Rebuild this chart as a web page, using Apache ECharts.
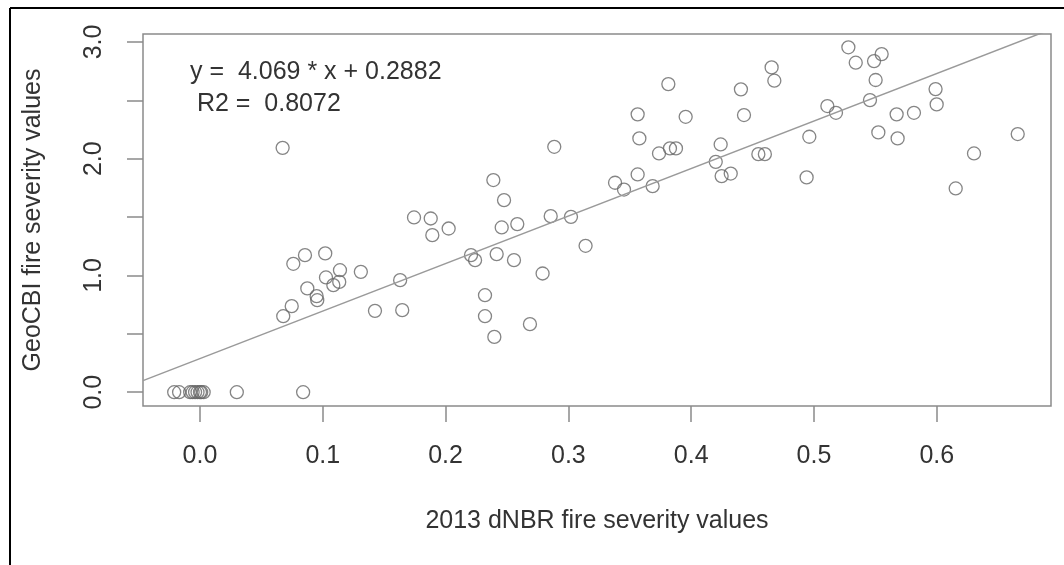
<!DOCTYPE html>
<html><head><meta charset="utf-8">
<script src="https://cdn.jsdelivr.net/npm/echarts@6/dist/echarts.min.js"></script>
<style>html,body{margin:0;padding:0;background:#fff}#c{width:1064px;height:565px}</style>
</head><body><div id="c"></div>
<script>
// 2013 dNBR fire severity values (x)
const dnbr = [
  -0.021, -0.017, -0.008, -0.006, -0.004, -0.002, 0.000, 0.001, 0.003, 0.030, 0.084,
  0.0673, 0.076, 0.0855, 0.102, 0.114, 0.1026, 0.1086, 0.1134, 0.131, 0.0874, 0.095, 0.0955, 0.0747, 0.0678, 0.1425, 0.1647, 0.163,
  0.1743, 0.1879, 0.1892, 0.2025, 0.2389, 0.2476, 0.2457, 0.2584, 0.2856, 0.3021, 0.314, 0.2207, 0.224, 0.2416, 0.2557, 0.279, 0.2321, 0.2321, 0.2397, 0.2687, 0.2885,
  0.3814, 0.3564, 0.3955, 0.3578, 0.3738, 0.3827, 0.3876, 0.424, 0.420, 0.4248, 0.4322, 0.338, 0.3453, 0.3564, 0.3686, 0.4405, 0.443, 0.4547, 0.460,
  0.528, 0.534, 0.5489, 0.5551, 0.5502, 0.4655, 0.4677, 0.5109, 0.5179, 0.5456, 0.5673, 0.5814, 0.599, 0.5999, 0.5524, 0.5681, 0.4962, 0.6659, 0.6303, 0.6154, 0.494
];
// GeoCBI fire severity values (y)
const geocbi = [
  0, 0, 0, 0, 0, 0, 0, 0, 0, 0, 0,
  2.093, 1.10, 1.174, 1.189, 1.045, 0.983, 0.917, 0.945, 1.031, 0.889, 0.823, 0.788, 0.737, 0.651, 0.697, 0.703, 0.96,
  1.497, 1.488, 1.345, 1.402, 1.817, 1.645, 1.411, 1.44, 1.508, 1.502, 1.254, 1.174, 1.131, 1.183, 1.131, 1.017, 0.831, 0.651, 0.474, 0.583, 2.102,
  2.639, 2.38, 2.359, 2.174, 2.045, 2.088, 2.088, 2.122, 1.973, 1.851, 1.873, 1.794, 1.736, 1.865, 1.765, 2.594, 2.374, 2.039, 2.039,
  2.954, 2.822, 2.836, 2.896, 2.674, 2.782, 2.668, 2.451, 2.393, 2.502, 2.38, 2.393, 2.596, 2.465, 2.225, 2.174, 2.188, 2.211, 2.045, 1.745, 1.84
];
const xTicks = [0, 0.1, 0.2, 0.3, 0.4, 0.5, 0.6];
const yTicks = [0, 0.5, 1, 1.5, 2, 2.5, 3];
const yTickLabels = [0, 1, 2, 3];
const xRange = [-0.0464, 0.693];
const yRange = [-0.118, 3.068];
const fitSlope = 4.069;
const fitIntercept = 0.2882;
const fitLines = ['y =  4.069 * x + 0.2882', ' R2 =  0.8072'];
const xTitle = '2013 dNBR fire severity values';
const yTitle = 'GeoCBI fire severity values';

const FONT = '"Liberation Sans", Arial, Helvetica, sans-serif';
const points = dnbr.map((x, i) => [x, geocbi[i]]);
const fit = xRange.map(x => [x, fitSlope * x + fitIntercept]);

const chart = echarts.init(document.getElementById('c'), null, {renderer: 'canvas'});
chart.setOption({
  backgroundColor: '#fff',
  animation: false,
  grid: {left: 143, top: 34, right: 13, bottom: 159, show: true, borderColor: '#8a8a8a', borderWidth: 1.5,
         containLabel: false, outerBoundsMode: 'none'},
  xAxis: {
    type: 'value', min: xRange[0], max: xRange[1],
    axisLine: {show: false, onZero: false},
    splitLine: {show: false},
    axisTick: {show: true, length: 16, customValues: xTicks, lineStyle: {color: '#8a8a8a', width: 1.5}},
    axisLabel: {customValues: xTicks, margin: 38, fontSize: 25, fontFamily: FONT, color: '#333',
                formatter: v => v.toFixed(1)},
    name: xTitle, nameLocation: 'middle', nameGap: 103,
    nameTextStyle: {fontSize: 25, fontFamily: FONT, color: '#333'}
  },
  yAxis: {
    type: 'value', min: yRange[0], max: yRange[1],
    axisLine: {show: false, onZero: false},
    splitLine: {show: false},
    axisTick: {show: true, length: 16, customValues: yTicks, lineStyle: {color: '#8a8a8a', width: 1.5}},
    axisLabel: {customValues: yTickLabels, rotate: 90, margin: 36, fontSize: 25, fontFamily: FONT, color: '#333',
                formatter: v => v.toFixed(1)},
    name: yTitle, nameLocation: 'middle', nameGap: 97,
    nameTextStyle: {fontSize: 25, fontFamily: FONT, color: '#333'}
  },
  series: [
    {type: 'line', data: fit, symbol: 'none', clip: true, silent: true,
     lineStyle: {color: '#9a9a9a', width: 1.5}},
    {type: 'scatter', data: points, symbol: 'circle', symbolSize: 13, clip: false,
     itemStyle: {color: 'rgba(0,0,0,0)', borderColor: '#666', borderWidth: 1.3}}
  ],
  graphic: [
    {type: 'line', shape: {x1: 10, y1: 8, x2: 1064, y2: 8}, style: {stroke: '#000', lineWidth: 2}},
    {type: 'line', shape: {x1: 10, y1: 8, x2: 10, y2: 565}, style: {stroke: '#000', lineWidth: 2}},
    {type: 'text', left: 190, top: 60, style: {text: fitLines[0], fontSize: 25, fontFamily: FONT, fill: '#333'}},
    {type: 'text', left: 190, top: 92, style: {text: fitLines[1], fontSize: 25, fontFamily: FONT, fill: '#333'}}
  ]
});
</script></body></html>
